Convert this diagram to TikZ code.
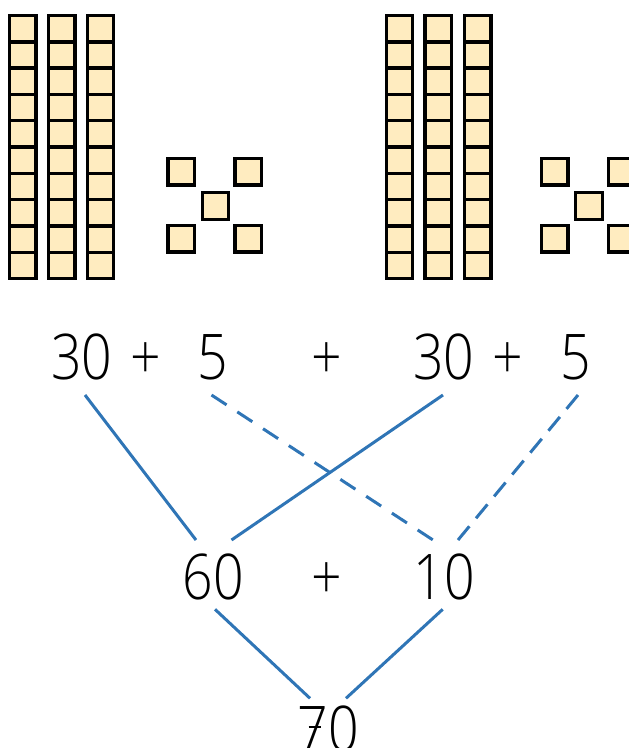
\documentclass[tikz,border=0pt]{standalone}
\usepackage{fontspec}
\setmainfont{Open Sans}[UprightFont=* Light]
\usetikzlibrary{calc}
\definecolor{cubefill}{RGB}{255,236,192}
\definecolor{linkblue}{RGB}{47,117,182}
\tikzset{
  cubebox/.style={draw=black, line width=3.4pt, fill=cubefill},
  numtxt/.style={inner sep=0pt, anchor=base, font=\fontsize{63}{63}\selectfont, xscale=0.85},
  solidlink/.style={draw=linkblue, line width=3pt},
  dashlink/.style={draw=linkblue, line width=3pt, dash pattern=on 18pt off #1},
}
\begin{document}
\begin{tikzpicture}[x=1pt,y=-1pt]
\useasboundingbox (0,0) rectangle (629,748);
\clip (0,0) rectangle (629,748);
% towers of ten
\foreach \cx in {22.7,61.7,100.5,399.5,438.3,477.7}{
  \foreach \r in {0,...,9}{
    \path[cubebox] (\cx-13.25,15.5+26.3*\r) rectangle (\cx+13.25,15.5+26.3*\r+26.3);
  }
}
% single cubes
\foreach \dx in {0,373.5}{
  \foreach \px/\py in {181.3/171.7,248.3/171.7,215.5/206,181.3/238.7,248.3/238.7}{
    \path[cubebox] (\px+\dx-13.25,\py-13.25) rectangle (\px+\dx+13.25,\py+13.25);
  }
}
% texts
\node[numtxt] (ta) at (81.7,379) {30};
\node[numtxt] (pa) at (145.5,379) {+};
\node[numtxt] (tb) at (212.5,379) {5};
\node[numtxt] (pm) at (327,379) {+};
\node[numtxt] (tc) at (443.7,379) {30};
\node[numtxt] (pc) at (507.8,379) {+};
\node[numtxt] (td) at (575.5,379) {5};
\node[numtxt] (ma) at (213,599) {60};
\node[numtxt] (mp) at (327,599) {+};
\node[numtxt] (mb) at (444,599) {10};
\node[numtxt] (bt) at (328.3,751) {70};
% connector end points
\coordinate (ta1) at (85,395);
\coordinate (tb1) at (211.5,395);
\coordinate (tc1) at (443,395);
\coordinate (td1) at (578,395);
\coordinate (ma1) at (196,540);
\coordinate (ma2) at (231.5,540);
\coordinate (mb1) at (433,540);
\coordinate (mb2) at (458,540);
\coordinate (ma3) at (215,609.3);
\coordinate (mb3) at (442.7,609.3);
\coordinate (bt1) at (310,698.3);
\coordinate (bt2) at (346,698.3);
\draw[solidlink] (ta1) -- (ma1);
\draw[solidlink] (tc1) -- (ma2);
\draw[dashlink=12.8pt] (tb1) -- (mb1);
\draw[dashlink=10.4pt] (td1) -- (mb2);
\draw[solidlink] (ma3) -- (bt1);
\draw[solidlink] (mb3) -- (bt2);
% crossbar of the seven
\draw[line width=2.2pt] ($(bt.base west)+(11,-24)$) -- ++(12,0);
\end{tikzpicture}
\end{document}
